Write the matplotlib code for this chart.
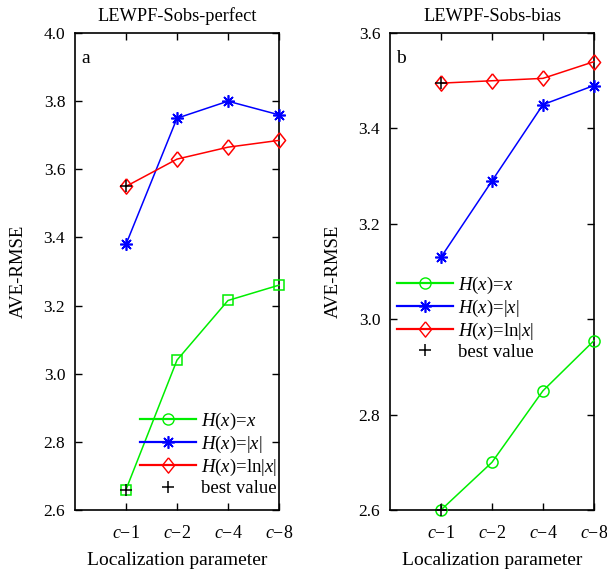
import matplotlib
matplotlib.use('Agg')
import matplotlib.pyplot as plt
from matplotlib.lines import Line2D

plt.rcParams['font.family'] = ['Liberation Serif', 'DejaVu Serif']
plt.rcParams['mathtext.fontset'] = 'custom'
plt.rcParams['mathtext.rm'] = 'Liberation Serif'
plt.rcParams['mathtext.it'] = 'Liberation Serif:italic'
plt.rcParams['font.size'] = 13

# localization parameter categories
params = [r'$c$−1', r'$c$−2', r'$c$−4', r'$c$−8']
xpos = [1, 2, 3, 4]

# panel a: LEWPF-Sobs-perfect
perfect_lin = [2.66, 3.04, 3.215, 3.26]
perfect_abs = [3.38, 3.75, 3.80, 3.76]
perfect_log = [3.55, 3.63, 3.665, 3.685]

# panel b: LEWPF-Sobs-bias
bias_lin = [2.60, 2.70, 2.85, 2.955]
bias_abs = [3.13, 3.29, 3.45, 3.49]
bias_log = [3.495, 3.50, 3.505, 3.54]

labels = [r'$H$($x$)=$x$', r'$H$($x$)=|$x$|', r'$H$($x$)=ln|$x$|', 'best value']
asterisk = (8, 2, 0)
diamond = [(0, 1), (0.8, 0), (0, -1), (-0.8, 0), (0, 1)]
green = '#00ee00'

fig = plt.figure(figsize=(6.07, 5.76), dpi=100)
axa = fig.add_axes([0.1236, 0.1146, 0.336, 0.828])
axb = fig.add_axes([0.6425, 0.1146, 0.336, 0.828])


def draw(ax, lin, ab, lg, lin_marker, lin_ms):
    ax.plot(xpos, lin, color=green, lw=1.1, marker=lin_marker, ms=lin_ms,
            mfc='none', mec=green, mew=1.1, clip_on=False, zorder=3)
    ax.plot(xpos, ab, color='blue', lw=1.1, marker=asterisk, ms=9,
            mec='blue', mew=1.2, clip_on=False, zorder=3)
    ax.plot(xpos, lg, color='red', lw=1.1, marker=diamond, ms=11,
            mfc='none', mec='red', mew=1.1, clip_on=False, zorder=3)
    # best value of each series marked at c-1
    ax.plot([1, 1], [lg[0], lin[0]], ls='none', marker='+', ms=9,
            color='black', mew=1.1, clip_on=False, zorder=4)
    ax.set_xlim(0, 4)
    ax.set_xticks(xpos)
    ax.set_xticklabels(params)
    ax.tick_params(direction='in', top=True, right=True, length=5, width=1)
    ax.tick_params(axis='y', labelsize=12.5, pad=7)
    ax.tick_params(axis='x', labelsize=13, pad=11)
    for s in ax.spines.values():
        s.set_linewidth(1.2)
    ax.set_xlabel('Localization parameter', fontsize=14, labelpad=7)
    ax.set_ylabel('AVE-RMSE', fontsize=13.5, labelpad=12)


def add_legend(ax, handles, loc, anchor):
    ax.legend(handles, labels, loc=loc, bbox_to_anchor=anchor,
              frameon=False, fontsize=13.5, handlelength=3.0, numpoints=1,
              labelspacing=0.1, handletextpad=0.25, borderpad=0,
              borderaxespad=0)


draw(axa, perfect_lin, perfect_abs, perfect_log, 's', 7)
axa.set_ylim(2.6, 4.0)
axa.set_yticks([2.6, 2.8, 3.0, 3.2, 3.4, 3.6, 3.8, 4.0])
axa.set_yticklabels(['2.6', '2.8', '3.0', '3.2', '3.4', '3.6', '3.8', '4.0'])
axa.set_title('LEWPF-Sobs-perfect', fontsize=13.2, pad=9)
axa.text(0.03, 0.965, 'a', transform=axa.transAxes, fontsize=14, va='top')

draw(axb, bias_lin, bias_abs, bias_log, 'o', 8)
axb.set_ylim(2.6, 3.6)
axb.set_yticks([2.6, 2.8, 3.0, 3.2, 3.4, 3.6])
axb.set_yticklabels(['2.6', '2.8', '3.0', '3.2', '3.4', '3.6'])
axb.set_title('LEWPF-Sobs-bias', fontsize=13.2, pad=9)
axb.text(0.03, 0.965, 'b', transform=axb.transAxes, fontsize=14, va='top')

handles = [
    Line2D([], [], color=green, lw=1.6, marker='o', ms=8, mfc='none'),
    Line2D([], [], color='blue', lw=1.6, marker=asterisk, ms=9, mew=1.2),
    Line2D([], [], color='red', lw=1.6, marker=diamond, ms=11, mfc='none'),
    Line2D([], [], ls='none', color='black', marker='+', ms=9, mew=1.1),
]
add_legend(axa, handles, 'lower right', (0.99, 0.027))
add_legend(axb, handles, 'upper left', (0.034, 0.493))

fig.savefig('out.png', dpi=100)
